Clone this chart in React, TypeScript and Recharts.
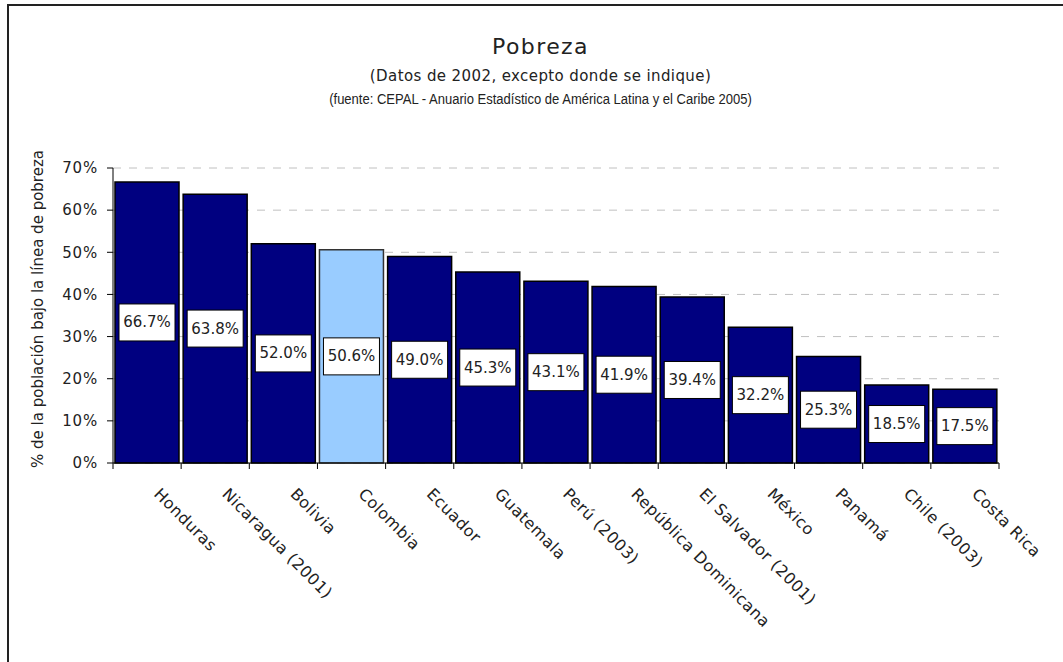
import { BarChart, Bar, XAxis, YAxis, CartesianGrid, Cell, LabelList } from "recharts";

const countries = [
  "Honduras",
  "Nicaragua (2001)",
  "Bolivia",
  "Colombia",
  "Ecuador",
  "Guatemala",
  "Perú (2003)",
  "República Dominicana",
  "El Salvador (2001)",
  "México",
  "Panamá",
  "Chile (2003)",
  "Costa Rica",
];
const poverty = [66.7, 63.8, 52.0, 50.6, 49.0, 45.3, 43.1, 41.9, 39.4, 32.2, 25.3, 18.5, 17.5];
const highlighted = "Colombia";
const yTicks = [0, 10, 20, 30, 40, 50, 60, 70];

const data = countries.map((name, i) => ({ name, value: poverty[i] }));

const W = 1063;
const H = 662;
const MARGIN = { top: 168, right: 64, bottom: 0, left: 0 };
const X_H = 199;
const Y_W = 113;
const STEP = (W - MARGIN.left - MARGIN.right - Y_W) / countries.length;
const FONT = "'DejaVu Sans', Verdana, sans-serif";

function CountryTick(props: any) {
  const { x, y, payload, index } = props;
  const last = index === countries.length - 1;
  const tx = x + 6;
  const ty = y + 32;
  return (
    <g>
      <line x1={x - STEP / 2} y1={y} x2={x - STEP / 2} y2={y + 6} stroke="#000" />
      {last && <line x1={x + STEP / 2} y1={y} x2={x + STEP / 2} y2={y + 6} stroke="#000" />}
      <text
        x={tx}
        y={ty}
        transform={`rotate(45 ${tx} ${ty})`}
        fontSize={16}
        letterSpacing={0.5}
        fontFamily={FONT}
        fill="#222"
        textAnchor="start"
      >
        {payload.value}
      </text>
    </g>
  );
}

function ValueBox(props: any) {
  const { x, y, width, height, value } = props;
  const cx = x + width / 2;
  const cy = y + height / 2;
  return (
    <g>
      <rect x={cx - 28} y={cy - 18.5} width={56} height={37} fill="#fff" stroke="#000" strokeWidth={1} />
      <text x={cx} y={cy} dy={5} textAnchor="middle" fontSize={15} fontFamily={FONT} fill="#222">
        {Number(value).toFixed(1)}%
      </text>
    </g>
  );
}

export default function App() {
  return (
    <div style={{ position: "fixed", left: 0, top: 0, width: W, height: H, overflow: "hidden", background: "#fff" }}>
      <div
        style={{
          position: "absolute",
          left: 7,
          top: 4,
          width: 1200,
          height: 800,
          borderLeft: "2px solid #222",
          borderTop: "2px solid #222",
        }}
      />
      <div
        style={{
          position: "absolute",
          left: 9,
          top: 34,
          width: W,
          textAlign: "center",
          fontFamily: FONT,
          fontSize: 22,
          letterSpacing: 1.4,
          color: "#222",
          lineHeight: "26px",
        }}
      >
        Pobreza
      </div>
      <div
        style={{
          position: "absolute",
          left: 9,
          top: 67,
          width: W,
          textAlign: "center",
          fontFamily: FONT,
          fontSize: 15,
          letterSpacing: 0.4,
          color: "#222",
          lineHeight: "18px",
        }}
      >
        (Datos de 2002, excepto donde se indique)
      </div>
      <div
        style={{
          position: "absolute",
          left: 9,
          top: 90,
          width: W,
          textAlign: "center",
          fontFamily: "'Liberation Sans Narrow', 'Liberation Sans', Arial, sans-serif",
          fontSize: 14,
          color: "#222",
          lineHeight: "18px",
          transform: "scaleX(0.93)",
        }}
      >
        (fuente: CEPAL - Anuario Estadístico de América Latina y el Caribe 2005)
      </div>
      <div style={{ position: "absolute", left: 38, top: 309, width: 0, height: 0 }}>
        <div
          style={{
            position: "absolute",
            left: 0,
            top: 0,
            transform: "translate(-50%, -50%) rotate(-90deg)",
            whiteSpace: "nowrap",
            fontFamily: FONT,
            fontSize: 15,
            color: "#222",
          }}
        >
          % de la población bajo la línea de pobreza
        </div>
      </div>
      <div style={{ position: "absolute", left: 0, top: 0 }}>
        <BarChart width={W} height={H} data={data} margin={MARGIN} barCategoryGap={2}>
          <CartesianGrid vertical={false} stroke="#c0c0c0" strokeDasharray="8 8" />
          <XAxis
            dataKey="name"
            interval={0}
            tickSize={0}
            tickMargin={0}
            tickLine={false}
            axisLine={{ stroke: "#000" }}
            tick={<CountryTick />}
            height={X_H}
          />
          <YAxis
            width={Y_W}
            domain={[0, 70]}
            ticks={yTicks}
            interval={0}
            tickFormatter={(v: number) => `${v}%`}
            axisLine={{ stroke: "#000" }}
            tickLine={{ stroke: "#000" }}
            tickSize={6}
            tickMargin={9}
            tick={{ fontSize: 15, fontFamily: FONT, fill: "#222", letterSpacing: 0.8 }}
          />
          <Bar dataKey="value" stroke="#000" strokeWidth={1.5} isAnimationActive={false}>
            {data.map((d) => (
              <Cell
                key={d.name}
                fill={d.name === highlighted ? "#99ccff" : "#000080"}
                stroke={d.name === highlighted ? "#333" : "#000"}
              />
            ))}
            <LabelList dataKey="value" content={<ValueBox />} />
          </Bar>
        </BarChart>
      </div>
    </div>
  );
}
